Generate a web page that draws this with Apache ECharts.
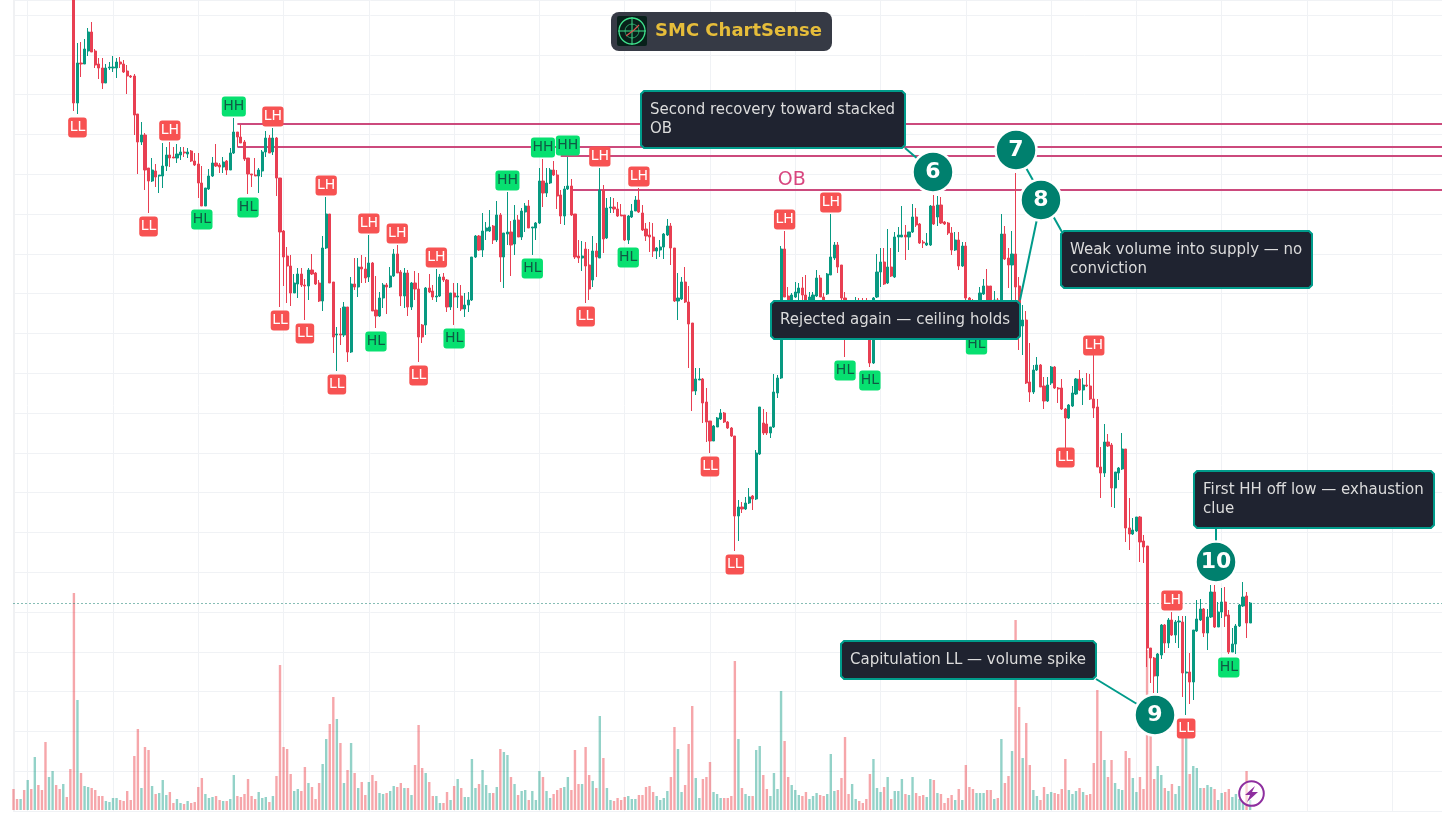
<!DOCTYPE html>
<html><head><meta charset="utf-8">
<style>html,body{margin:0;padding:0;background:#fff;overflow:hidden}#c{width:1442px;height:813px}</style>
<script src="https://cdn.jsdelivr.net/npm/echarts@6/dist/echarts.min.js"></script>
</head><body><div id="c"></div>
<script>
// [open, close, low, high] from bar 17 on; earlier bars are above the visible price range
const firstVisibleBar = 17;
const candles = [
[830,708,700,840],[708,748,697,768],[748,747,734,769],[747,762,747,772],[760,779,755,783],[779,759,759,789],[760,746,743,762],[747,743,732,753],[743,728,722,753],[728,743,728,747],
[743,744,741,749],[743,744,739,755],[743,749,733,753],[749,747,743,754],[747,739,738,751],[740,735,717,746],[735,734,733,736],[735,696,676,737],[697,669,637,697],[669,676,666,689],
[676,641,621,678],[643,630,598,643],[630,641,629,653],[640,634,624,647],[635,636,618,636],[635,645,623,668],[645,656,640,664],[656,653,644,669],[654,653,653,664],[653,657,648,667],
[656,659,651,664],[659,658,654,664],[657,659,653,663],[660,650,649,661],[650,646,645,658],[647,628,613,658],[628,605,605,645],[605,623,605,623],[622,635,621,642],[635,648,634,654],
[648,645,644,667],[646,644,638,648],[644,649,638,654],[650,641,636,651],[641,658,641,663],[658,679,657,693],[679,674,664,679],[674,668,668,686],[669,652,650,671],[653,637,617,653],
[637,636,624,637],[636,635,635,653],[635,641,618,643],[640,659,634,661],[659,673,654,680],[673,658,658,676],[659,673,656,683],[673,633,615,674],[633,579,504,633],[580,554,525,581],
[555,545,508,564],[545,518,505,556],[518,528,518,537],[527,537,513,543],[537,526,524,543],[526,525,491,532],[525,541,511,543],[541,537,536,557],[538,527,526,539],[528,510,509,531],
[510,563,500,575],[563,597,562,614],[597,528,528,597],[529,474,458,529],[476,477,440,484],[477,476,466,503],[476,504,474,509],[504,459,449,504],[459,527,458,534],[527,524,521,553],
[524,544,514,553],[544,542,528,556],[542,533,528,554],[534,548,529,576],[548,500,500,549],[501,495,483,535],[495,513,494,519],[513,526,503,528],[526,524,497,528],[524,535,523,544],
[535,557,534,562],[557,538,538,566],[539,515,505,541],[515,538,503,543],[538,504,495,541],[504,528,501,529],[528,522,511,540],[522,474,449,538],[486,474,468,487],[486,523,476,524],
[523,519,518,537],[520,514,511,526],[514,515,509,542],[515,534,514,537],[534,531,529,538],[531,504,499,532],[504,518,501,518],[518,514,486,528],[514,515,503,528],[515,502,500,526],
[502,506,494,518],[506,511,499,519],[511,554,510,554],[554,575,553,576],[575,561,560,576],[561,580,554,598],[580,583,571,589],[580,584,579,601],[585,571,567,586],[571,596,569,610],
[596,554,529,598],[554,578,523,578],[577,579,566,619],[579,566,535,590],[567,591,556,606],[591,574,574,596],[574,600,571,603],[599,605,579,608],[605,583,583,611],[583,584,556,584],
[583,588,571,589],[588,630,587,643],[630,618,604,652],[618,628,614,643],[628,641,627,643],[641,636,635,650],[636,615,602,641],[616,595,587,621],[595,622,586,625],[622,625,621,654],
[625,596,595,632],[597,554,552,597],[555,553,548,571],[553,555,540,570],[562,545,508,569],[546,522,511,562],[531,560,524,575],[560,554,534,568],[553,621,553,643],[621,572,558,626],
[573,603,572,613],[603,604,598,614],[604,602,598,613],[602,595,594,609],[596,595,595,607],[596,571,570,596],[571,595,567,596],[594,600,593,607],[600,611,600,615],[611,599,598,623],
[598,581,580,606],[582,575,570,588],[576,574,559,589],[574,560,554,588],[560,563,552,564],[561,564,554,571],[564,577,552,578],[576,585,575,592],[585,563,546,588],[563,510,509,563],
[510,513,491,538],[512,529,511,534],[529,509,508,544],[509,487,443,525],[488,420,400,488],[420,432,416,443],[431,432,431,443],[432,408,388,433],[409,389,369,423],[390,370,358,390],
[370,385,370,386],[384,393,384,394],[392,398,391,402],[398,389,388,399],[389,383,382,390],[383,375,374,384],[375,295,260,375],[295,304,270,311],[304,302,298,309],[302,308,301,314],
[308,314,307,323],[315,312,301,316],[312,358,311,361],[357,404,356,404],[388,378,376,402],[387,378,376,399],[378,384,373,384],[384,419,383,437],[418,433,413,436],[433,562,432,565],
[562,514,514,580],[515,503,501,524],[503,516,501,518],[514,519,513,529],[518,523,511,528],[523,516,508,534],[516,501,499,536],[499,514,491,519],[504,516,498,519],[515,533,514,541],
[533,514,514,536],[514,499,494,518],[517,537,516,538],[536,554,536,597],[553,566,551,569],[566,544,538,569],[546,513,511,546],[513,491,454,519],[491,488,471,494],[488,494,484,504],
[494,498,491,514],[498,484,481,513],[485,479,478,513],[481,474,473,513],[475,448,444,478],[448,513,447,514],[514,539,513,557],[539,549,524,563],[549,527,526,563],[528,544,527,582],
[544,535,534,563],[534,574,533,579],[574,576,559,584],[574,576,574,605],[576,574,551,586],[574,579,561,579],[579,594,578,607],[594,586,584,603],[587,568,567,588],[569,568,563,571],
[566,568,565,578],[566,605,565,606],[605,587,586,616],[594,606,585,615],[606,588,587,614],[589,587,586,590],[588,578,576,589],[578,561,556,584],[561,571,560,579],[571,545,541,579],
[545,565,544,569],[565,513,511,569],[513,501,499,514],[502,496,494,512],[496,508,480,511],[507,518,506,524],[517,525,516,532],[525,506,503,542],[525,501,499,525],[501,511,499,520],
[511,498,491,513],[498,577,497,597],[577,552,551,585],[553,546,523,563],[546,557,508,580],[557,524,504,638],[525,491,461,534],[485,491,456,506],[491,428,427,500],[429,419,409,468],
[419,441,417,446],[441,446,440,454],[446,424,424,447],[425,410,402,434],[410,426,409,434],[428,444,426,445],[444,423,422,445],[423,422,408,424],[423,402,401,432],[402,393,363,403],
[393,406,392,407],[405,418,404,425],[417,432,416,433],[432,421,420,441],[421,426,406,433],[426,425,424,438],[425,412,411,437],[412,403,393,456],[404,344,344,412],[344,338,313,364],
[338,369,334,387],[369,365,364,377],[366,323,304,368],[323,339,303,339],[338,343,331,344],[342,362,341,378],[362,283,269,362],[283,277,261,313],[277,281,276,293],[280,294,279,294],
[294,269,249,295],[270,264,248,276],[265,163,144,265],[163,153,128,163],[153,135,118,154],[135,157,118,158],[156,186,152,187],[186,168,158,187],[168,191,163,193],[191,176,175,199],
[176,189,168,191],[189,190,163,195],[189,138,114,195],[138,139,96,195],[139,129,107,158],[129,181,111,181],[180,192,179,211],[191,202,190,212],[202,178,174,203],[178,194,161,202],
[194,219,193,226],[219,184,183,226],[184,199,184,209],[199,209,193,223],[209,195,184,224],[196,159,157,201],[159,167,159,183],[167,185,157,187],[185,206,184,207],[205,214,204,229],
[215,188,173,219],[188,208,188,209]
];
const volumes = [
21,11,11,20,30,21,53,25,20,68,33,39,25,21,26,13,41,
217,110,37,24,23,22,20,14,14,9,8,12,12,10,9,19,10,54,81,22,63,60,24,16,17,30,15,18,7,11,7,6,9,7,8,23,32,16,12,13,14,10,9,9,11,35,14,13,16,31,14,11,18,12,13,8,14,34,145,63,61,36,19,21,19,43,27,23,11,27,46,71,86,113,91,67,27,40,67,37,22,28,15,28,35,29,17,16,17,19,24,23,
27,22,22,15,45,85,42,37,28,14,14,7,7,18,10,24,31,22,13,13,51,22,26,40,25,17,17,23,61,58,55,33,26,15,19,20,10,19,10,39,33,19,12,16,20,22,23,33,20,60,26,26,63,35,29,22,94,52,22,10,9,12,10,13,14,11,11,15,15,23,24,18,14,10,12,19,33,83,61,18,25,66,104,32,12,31,33,48,18,16,12,12,12,14,149,71,22,16,14,14,60,64,35,21,14,37,21,119,69,33,25,20,15,14,18,11,14,17,15,14,16,56,19,20,
32,73,16,26,11,9,7,11,36,51,22,18,23,33,11,19,19,31,16,15,33,17,14,15,13,31,30,17,16,7,12,15,10,21,10,45,23,21,17,17,17,20,20,11,12,71,27,34,59,190,103,52,87,45,20,14,10,23,16,18,17,16,21,51,20,16,19,22,18,15,16,47,120,79,50,33,50,27,21,20,59,52,32,18,33,21,160,90,31,44,35,22,19,26,16,24,72,75,36,44,42,22,22,25,23,21,10,17,18,21,13,16,11,8,39,10
];
const hiddenBarsUp = [0,0,1,0,1,0,1,0,0,0,1,1,0,0,1,0,0];
const pivots = [
['LL',18],['LH',44],['LL',38],['HL',53],['HH',62],['HL',66],['LH',73],['LL',75],['LH',88],['LL',82],['LL',91],['LH',100],['HL',102],['LH',108],['LL',114],['LH',119],['HL',124],
['HH',139],['HL',146],['HH',149],['HH',156],['LL',161],['LH',165],['HL',173],['LH',176],['LL',196],['LL',203],['LH',217],['LH',230],['HL',234],['HL',241],['HL',271],
['LH',304,-1],['LL',296,-1],['LH',326],['LL',330],['HL',342]
];
const obLevels = [[63,687],[63,664],[154,655],[157,621]];
const lastPrice = 207.5;
const obText = {text:'OB', bar:219, price:631};
const callouts = [
 {text:'Second recovery toward stacked\nOB', box:[641,91,905,148]},
 {text:'Weak volume into supply — no\nconviction', box:[1061,231,1312,288]},
 {text:'Rejected again — ceiling holds', box:[771,301,1020,339]},
 {text:'First HH off low — exhaustion\nclue', box:[1194,471,1434,528]},
 {text:'Capitulation LL — volume spike', box:[841,641,1096,679]}
];
const badges = [['6',933,172],['7',1016,150],['8',1041,200],['9',1155,715],['10',1216,562]];
const connectors = [[905,148,933,172],[1016,150,1062,232],[1041,200,1020,300],[1096,679,1155,715],[1216,528,1216,562]];

const BAR_COUNT = 403, UP='#089981', DOWN='#e83f52', FONT='"DejaVu Sans"';
const cats = Array.from({length:BAR_COUNT},(_, i)=>String(i));
const rows = Array.from({length:firstVisibleBar},()=>['-','-','-','-']).concat(candles);
const lookup = i => rows[i];
const volData = volumes.map((v,i)=>{
  const up = i<firstVisibleBar ? hiddenBarsUp[i]===1 : rows[i][1]>=rows[i][0];
  return {value:v,itemStyle:{color:up?'rgba(8,153,129,0.44)':'rgba(235,60,70,0.46)'}};
});
const pivotData = pivots.map(([t,i,nudge])=>{
  const hi = t==='HH'||t==='LH', green = t==='HH'||t==='HL';
  return {value:[i, hi?lookup(i)[3]:lookup(i)[2]],
    label:{show:true,formatter:t,position:hi?'top':'bottom',distance:nudge!==undefined?nudge:(hi?1:3),
      color:green?'#0f5a45':'#fff',backgroundColor:green?'#07e070':'#f75252',
      padding:[2,1.5,3,1.5],borderRadius:3,fontFamily:FONT,fontSize:14,lineHeight:15,opacity:1}};
});
const gridCommon = {left:13.5,width:1431};
const option = {
  animation:false,
  grid:[{...gridCommon,top:0,height:811},{...gridCommon,top:0,height:810}],
  xAxis:[
   {type:'category',data:cats,boundaryGap:false,gridIndex:0,axisLine:{show:false},axisTick:{show:false},axisLabel:{show:false},
    splitLine:{show:true,interval:(i)=>((i-4)%24===0),lineStyle:{color:'#f0f2f5',width:1}}},
   {type:'category',data:cats,boundaryGap:false,gridIndex:1,show:false}
  ],
  yAxis:[
   {type:'value',min:0,max:811,interval:39.8,gridIndex:0,axisLabel:{show:false},axisTick:{show:false},
    axisLine:{show:true,lineStyle:{color:'#f0f1f3',width:2}},splitLine:{show:true,lineStyle:{color:'#f0f2f5',width:1}}},
   {type:'value',min:0,max:810,gridIndex:1,show:false,splitLine:{show:false}}
  ],
  series:[
   {type:'bar',xAxisIndex:1,yAxisIndex:1,data:volData,barWidth:2.4,clip:false,z:1},
   ...obLevels.map(([start,lv])=>({type:'line',showSymbol:false,silent:true,z:2,
      data:[[start,lv],[BAR_COUNT-1,lv]],lineStyle:{color:'#cc4a7d',width:2}})),
   {type:'line',showSymbol:false,z:2,data:[[0,lastPrice],[BAR_COUNT-1,lastPrice]],lineStyle:{color:'#0d7a6a',width:1,type:[1,3]}},
   {type:'candlestick',data:rows,barWidth:2.6,z:3,itemStyle:{color:UP,color0:DOWN,borderColor:UP,borderColor0:DOWN,borderWidth:1}},
   {type:'scatter',data:pivotData,symbolSize:1,itemStyle:{color:'transparent',opacity:1},z:4},
   {type:'scatter',symbolSize:1,itemStyle:{color:'transparent',opacity:1},z:4,
    data:[{value:[obText.bar,obText.price],label:{show:true,formatter:obText.text,position:'inside',color:'#d8467f',fontFamily:FONT,fontSize:19,opacity:1}}]}
  ],
  graphic:{elements:[]}
};
const chamfer=(x0,y0,x1,y1,c)=>[[x0+c,y0],[x1-c,y0],[x1,y0+c],[x1,y1-c],[x1-c,y1],[x0+c,y1],[x0,y1-c],[x0,y0+c]];
const g=[];
connectors.forEach(([a,b,c,d])=>g.push({type:'line',z:100,shape:{x1:a,y1:b,x2:c,y2:d},style:{stroke:'#009b8a',lineWidth:2}}));
callouts.forEach(c=>{
  const [x0,y0,x1,y1]=c.box;
  g.push({type:'polygon',z:101,shape:{points:chamfer(x0,y0,x1,y1,3)},style:{fill:'#1f2330',stroke:'#009b8a',lineWidth:2}});
  g.push({type:'text',z:102,x:x0+9,y:y0+9.5,style:{text:c.text,fill:'#dcdcdc',font:'15px '+FONT,lineHeight:19}});
});
badges.forEach(([t,x,y])=>{
  g.push({type:'circle',z:103,shape:{cx:x,cy:y,r:20.5},style:{fill:'#00806e',stroke:'#fff',lineWidth:2.5}});
  g.push({type:'text',z:104,x:x,y:y+0.5,style:{text:t,fill:'#fff',font:'bold 22px '+FONT,align:'center',verticalAlign:'middle'}});
});
// brand pill
g.push({type:'rect',z:105,shape:{x:611,y:12,width:221,height:39,r:8},style:{fill:'#363a45'}});
g.push({type:'rect',z:106,shape:{x:617,y:16,width:30,height:30,r:2},style:{fill:'#08201a'}});
g.push({type:'circle',z:107,shape:{cx:632,cy:31,r:13},style:{fill:'none',stroke:'#3fe08c',lineWidth:1.3}});
g.push({type:'circle',z:107,shape:{cx:632,cy:31,r:7},style:{fill:'none',stroke:'#2a9c66',lineWidth:1}});
g.push({type:'line',z:107,shape:{x1:618,y1:31,x2:646,y2:31},style:{stroke:'#3fe08c',lineWidth:1}});
g.push({type:'line',z:107,shape:{x1:632,y1:17,x2:632,y2:45},style:{stroke:'#3fe08c',lineWidth:1}});
g.push({type:'polyline',z:107,shape:{points:[[626,36],[630,33],[634,30],[639,25]]},style:{stroke:'#d9534f',lineWidth:1.2,fill:'none'}});
g.push({type:'text',z:107,x:655,y:31.5,style:{text:'SMC ChartSense',fill:'#e6bd3a',font:'bold 18px '+FONT,verticalAlign:'middle'}});
// bolt mark
g.push({type:'circle',z:105,shape:{cx:1251.5,cy:793.5,r:12.3},style:{fill:'rgba(255,255,255,0.55)',stroke:'#8e2f9f',lineWidth:2}});
g.push({type:'polygon',z:106,shape:{points:[[1255,786],[1245,795],[1250,795],[1247,802],[1258,792],[1252,792]]},style:{fill:'#8e2f9f'}});
option.graphic.elements=g;
echarts.init(document.getElementById('c'),null,{renderer:'canvas'}).setOption(option);
</script></body></html>
